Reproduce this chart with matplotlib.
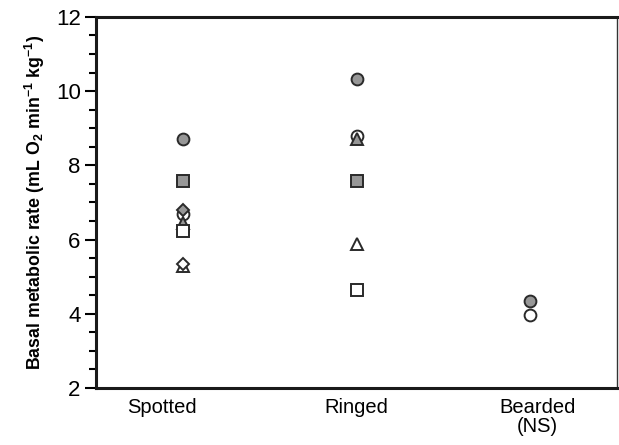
import matplotlib.pyplot as plt
from matplotlib.ticker import MultipleLocator

plt.rcParams['font.family'] = ['Liberation Sans', 'DejaVu Sans']
plt.rcParams['mathtext.fontset'] = 'custom'
plt.rcParams['mathtext.rm'] = 'Liberation Sans'
plt.rcParams['mathtext.bf'] = 'Liberation Sans:bold'

species = ['Spotted', 'Ringed', 'Bearded\n(NS)']

# basal metabolic rate per marker style: (species index, value)
grey_circle_x = [0, 1, 2]
grey_circle_y = [8.70, 10.32, 4.35]
open_circle_x = [0, 1, 2]
open_circle_y = [6.70, 8.78, 3.97]
grey_square_x = [0, 1]
grey_square_y = [7.57, 7.59]
open_square_x = [0, 1]
open_square_y = [6.22, 4.65]
grey_diamond_x = [0]
grey_diamond_y = [6.80]
open_diamond_x = [0]
open_diamond_y = [5.35]
grey_triangle_x = [0, 1]
grey_triangle_y = [6.45, 8.72]
open_triangle_x = [0, 1]
open_triangle_y = [5.30, 5.89]

grey = '#979797'
edge = '#2a2a2a'

fig = plt.figure(figsize=(6.19, 4.45), dpi=100)
ax = fig.add_axes([0.155, 0.128, 0.842, 0.834])

def pts(x, y, marker, face, size=8.5):
    ax.plot(x, y, ls='', marker=marker, markersize=size, markerfacecolor=face,
            markeredgecolor=edge, markeredgewidth=1.4, zorder=3)

pts(open_triangle_x, open_triangle_y, '^', 'white', 8)
pts(open_circle_x, open_circle_y, 'o', 'white')
pts(grey_triangle_x, grey_triangle_y, '^', grey, 8)
pts(grey_circle_x, grey_circle_y, 'o', grey)
pts(open_square_x, open_square_y, 's', 'white', 8)
pts(grey_square_x, grey_square_y, 's', grey, 8)
pts(open_diamond_x, open_diamond_y, 'D', 'white', 6.5)
pts(grey_diamond_x, grey_diamond_y, 'D', grey, 6.5)

ax.set_xlim(-0.5, 2.5)
ax.set_ylim(2, 12)
# category labels sit slightly off the point columns
ax.set_xticks([-0.12, 1.0, 2.04])
ax.set_xticklabels(species, fontsize=14.5, linespacing=1.0)
ax.yaxis.set_major_locator(MultipleLocator(2))
ax.yaxis.set_minor_locator(MultipleLocator(0.5))
ax.tick_params(axis='x', length=0, pad=7)
ax.tick_params(axis='y', which='major', length=8, width=1.5, labelsize=16, pad=3)
ax.tick_params(axis='y', which='minor', length=5, width=1.5)

for side in ['left', 'bottom', 'top']:
    ax.spines[side].set_linewidth(2.2)
    ax.spines[side].set_color('#1a1a1a')
ax.spines['right'].set_linewidth(1.0)
ax.spines['right'].set_color('#333333')

ax.set_ylabel(r'Basal metabolic rate (mL O$_\mathbf{2}$ min$^\mathbf{-1}$ kg$^\mathbf{-1}$)',
              fontsize=12.8, fontweight='bold', labelpad=6)

fig.savefig('out.png', dpi=100)
